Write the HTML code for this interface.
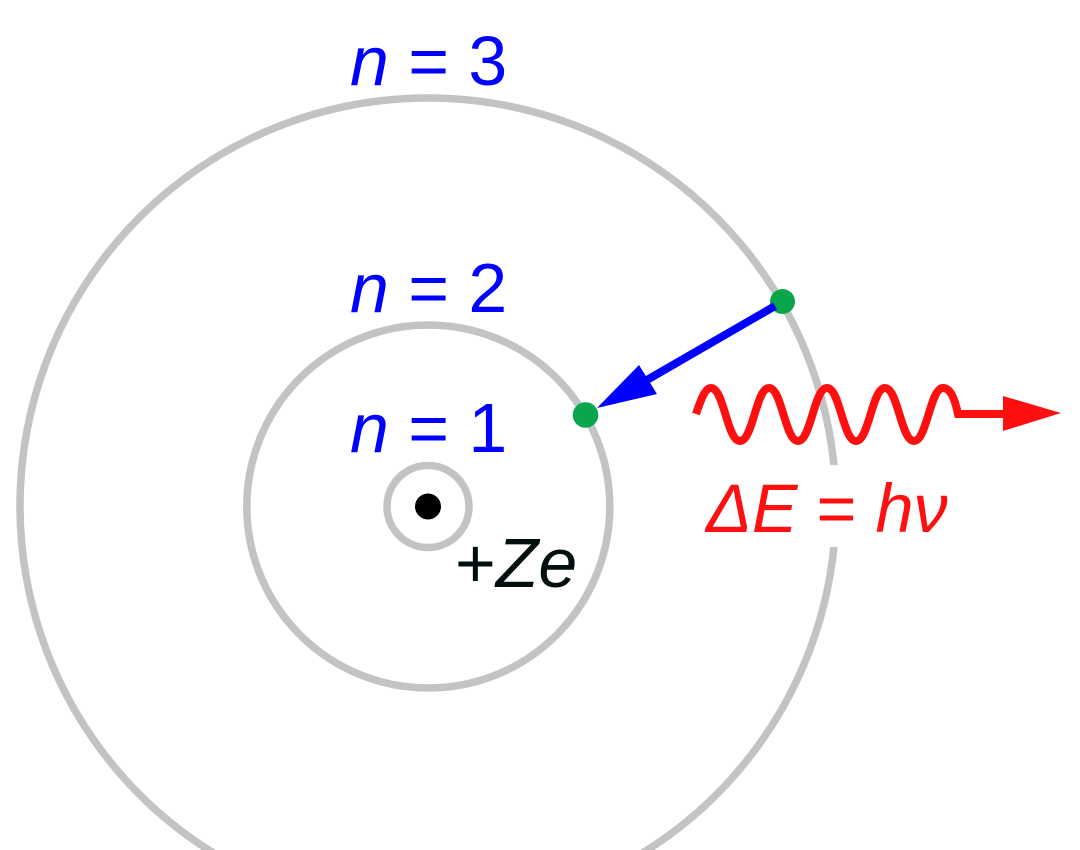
<!DOCTYPE html>
<html>
<head>
<meta charset="utf-8">
<style>
html,body{margin:0;padding:0;background:#fff;width:1080px;height:850px;overflow:hidden}
svg{display:block}
text{font-family:"Liberation Sans",sans-serif;font-size:69.8px}
.i{font-style:italic}
</style>
</head>
<body>
<svg width="1080" height="850" viewBox="0 0 1080 850" xmlns="http://www.w3.org/2000/svg">
<defs><clipPath id="frame"><rect width="1080" height="850"/></clipPath></defs>
<rect width="1080" height="850" fill="#fff"/>
<g fill="none" stroke="#c3c3c3" stroke-width="7.5">
<circle cx="428" cy="506.5" r="41"/>
<circle cx="428.3" cy="506.5" r="181.5"/>
<g clip-path="url(#frame)"><path d="M630.8,860 A408,408 0 1 0 225.2,860"/></g>
</g>
<rect x="820" y="465" width="30" height="82" fill="#fff"/>
<circle cx="428" cy="506.5" r="13" fill="#000"/>
<circle cx="782.5" cy="301.5" r="12.5" fill="#0aa64c"/>
<circle cx="585.5" cy="415" r="12.8" fill="#0aa64c"/>
<line x1="775" y1="306" x2="640" y2="384" stroke="#0000ff" stroke-width="8"/>
<polygon points="597,408 639,365 657,394" fill="#0000ff"/>
<path d="M696,414 C702,396 706,388 711,388 C724,388 727,441 740,441 C753,441 756,388 769,388 C782,388 785,441 798,441 C811,441 814,388 827,388 C840,388 843,441 856,441 C869,441 872,388 885,388 C898,388 901,441 914,441 C927,441 930,388 943,388 C951,388 955,400 958,414 L1006,414" fill="none" stroke="#ff1010" stroke-width="8"/>
<polygon points="1003,396 1061,413 1003,431" fill="#ff1010"/>
<text x="350" y="85" fill="#0000ff"><tspan class="i">n</tspan> = 3</text>
<text x="350" y="312" fill="#0000ff"><tspan class="i">n</tspan> = 2</text>
<text x="350" y="452" fill="#0000ff"><tspan class="i">n</tspan> = 1</text>
<text x="455" y="587" fill="#010f0f">+<tspan class="i">Ze</tspan></text>
<text x="706" y="532" fill="#ff1010" class="i" style="font-size:68.4px">ΔE <tspan style="font-style:normal">=</tspan> hν</text>
</svg>
</body>
</html>
